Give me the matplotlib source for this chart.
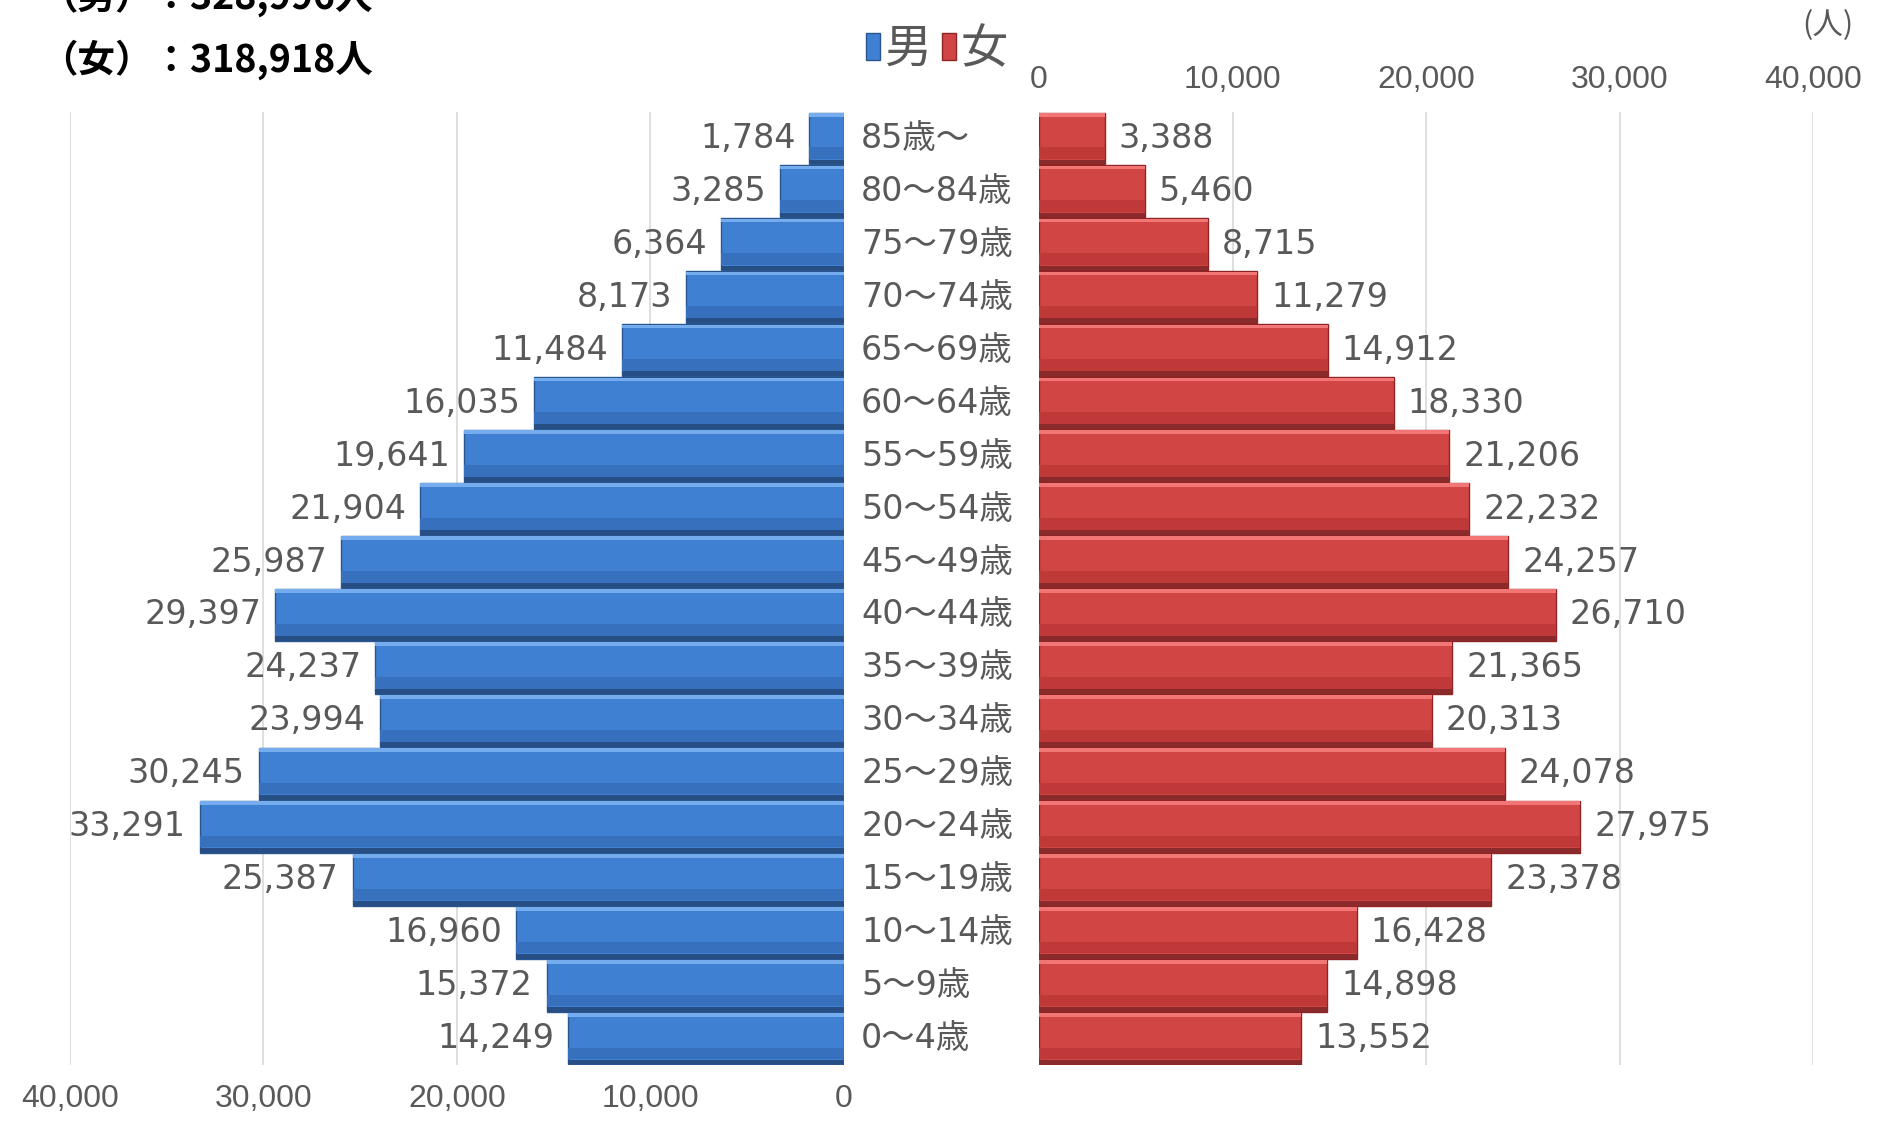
## Population pyramid by 5-year age group (male / female).
import numpy as np
import matplotlib.pyplot as plt
from matplotlib.patches import Patch


## Data, from the oldest group down to the youngest.
ages   = ['85歳～', '80～84歳', '75～79歳', '70～74歳', '65～69歳', '60～64歳',
          '55～59歳', '50～54歳', '45～49歳', '40～44歳', '35～39歳', '30～34歳',
          '25～29歳', '20～24歳', '15～19歳', '10～14歳', '5～9歳', '0～4歳']
male   = [1784, 3285, 6364, 8173, 11484, 16035, 19641, 21904, 25987, 29397,
          24237, 23994, 30245, 33291, 25387, 16960, 15372, 14249]
female = [3388, 5460, 8715, 11279, 14912, 18330, 21206, 22232, 24257, 26710,
          21365, 20313, 24078, 27975, 23378, 16428, 14898, 13552]
ticks  = [0, 10000, 20000, 30000, 40000]
total_male   = 328996
total_female = 318918


plt.rcParams['font.family'] = ['DejaVu Sans', 'Noto Sans CJK JP']

W, H = 1883, 1124
fig = plt.figure(figsize=(W / 100, H / 100), dpi=100)

top, bot = 112, 1065
ax_l = fig.add_axes([70 / W, 1 - bot / H, (844 - 70) / W, (bot - top) / H])
ax_r = fig.add_axes([1039 / W, 1 - bot / H, (1813 - 1039) / W, (bot - top) / H])

y = np.arange(len(ages))
grey = '#595959'
## (light top, main, lower, dark bottom, edge)
blues = ['#74ACEE', '#3F80D2', '#3771BE', '#274F86', '#2A5690']
reds  = ['#F27676', '#D24545', '#BF3939', '#8A2A2A', '#8E2424']


## Draws bars with a simple bevel: light top edge, darker lower part and bottom edge.
def bevel_bars( ax, vals, c ):
    ax.barh(y, vals, height=0.98, color=c[1], edgecolor=c[4], linewidth=1.0, zorder=3)
    ax.barh(y + 0.28, vals, height=0.22, color=c[2], linewidth=0, zorder=4)
    ax.barh(y + 0.445, vals, height=0.09, color=c[3], linewidth=0, zorder=5)
    ax.barh(y - 0.45, vals, height=0.07, color=c[0], linewidth=0, zorder=5)


bevel_bars(ax_l, male, blues)
bevel_bars(ax_r, female, reds)

for ax in (ax_l, ax_r):
    ax.set_xlim(0, 40000)
    ax.set_ylim(len(ages) - 0.5, -0.5)
    ax.set_xticks(ticks)
    ax.set_xticklabels(['{:,}'.format(t) for t in ticks],
                       family='Liberation Sans', fontsize=23, color=grey)
    ax.set_yticks([])
    ax.tick_params(axis='x', length=0)
    for s in ax.spines.values():
        s.set_visible(False)
    ax.grid(axis='x', color='#D9D9D9', linewidth=1.2, zorder=0)

ax_l.invert_xaxis()
ax_l.tick_params(axis='x', pad=14)
ax_r.xaxis.tick_top()
ax_r.tick_params(axis='x', pad=12)

## Value labels.
for i in range(len(ages)):
    ax_l.annotate('{:,}'.format(male[i]), xy=(male[i], i), xytext=(-10, 0),
                  textcoords='offset points', ha='right', va='center',
                  fontsize=24, color=grey)
    ax_r.annotate('{:,}'.format(female[i]), xy=(female[i], i), xytext=(10, 0),
                  textcoords='offset points', ha='left', va='center',
                  fontsize=24, color=grey)
    ## Age group names sit in the gap between the two panels.
    ax_l.text(1.022, i, ages[i], transform=ax_l.get_yaxis_transform(),
              ha='left', va='center', fontsize=24, color=grey)

## Legend.
handles = [Patch(facecolor=blues[1], edgecolor=blues[4]), Patch(facecolor=reds[1], edgecolor=reds[4])]
fig.legend(handles, ['男', '女'], loc='center', bbox_to_anchor=(937 / W, 1 - 50 / H),
           ncol=2, frameon=False, handlelength=0.3, handleheight=0.5,
           handletextpad=0.1, columnspacing=0.2, labelcolor=grey,
           prop={'family': ['Noto Sans CJK JP'], 'size': 34})

## Totals and unit.
fig.text(40 / W, 1 + 3 / H, '（男）：{:,}人'.format(total_male), ha='left', va='center',
         fontsize=27, fontweight='bold', color='black', family=['Noto Sans CJK JP'])
fig.text(40 / W, 1 - 60 / H, '（女）：{:,}人'.format(total_female), ha='left', va='center',
         fontsize=27, fontweight='bold', color='black', family=['Noto Sans CJK JP'])
fig.text(1828 / W, 1 - 26 / H, '(人)', ha='center', va='center',
         fontsize=22, color=grey, family=['Noto Sans CJK JP'])

fig.savefig('out.png', dpi=100)
